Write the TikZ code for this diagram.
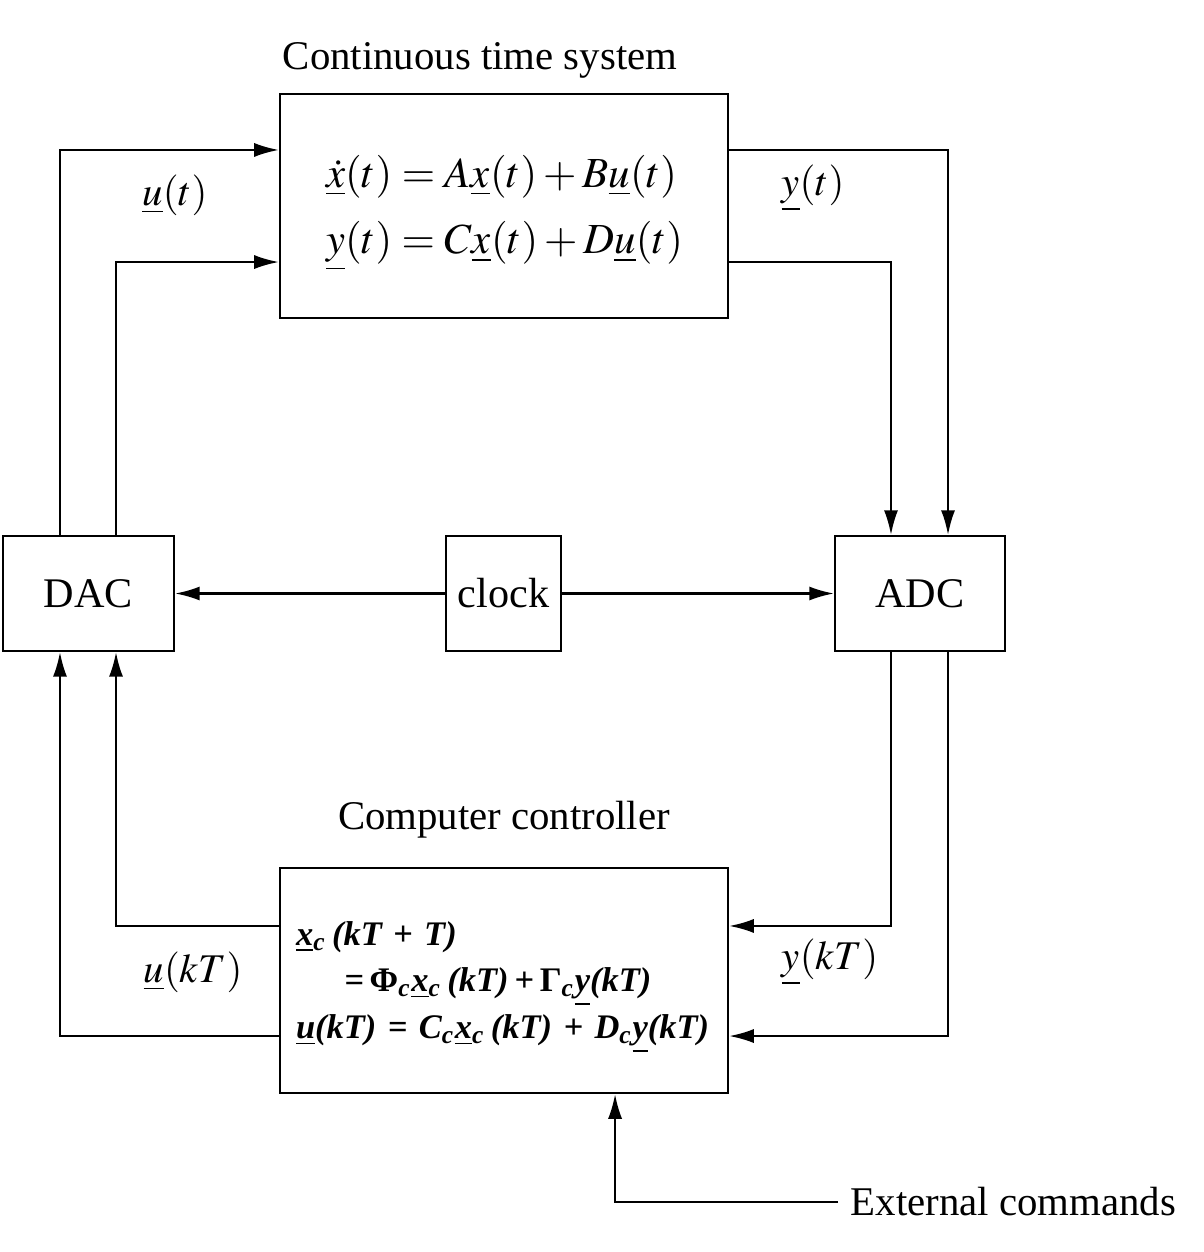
\documentclass[tikz,border=0pt]{standalone}
\usepackage{mathptmx}
\usepackage{fontspec}
\setmainfont{Liberation Serif}
\usetikzlibrary{arrows.meta}
\newcommand{\ulsub}[2]{\underline{#1}\textsubscript{#2}}
\newcommand{\op}[1]{\hspace{0.33em}#1\hspace{0.33em}}
\begin{document}
\begin{tikzpicture}[x=0.01cm, y=-0.01cm, >={Latex[length=7pt,width=4pt]}, line width=0.6pt,
    blk/.style={draw, minimum height=1.15cm, inner sep=0pt, font=\fontsize{12}{14}\selectfont},
    lbl/.style={font=\fontsize{11.6}{14}\selectfont}]
\useasboundingbox (0,0) rectangle (1204,1252);
% blocks
\node[draw, minimum width=4.48cm, minimum height=2.24cm] (sys) at (504,206) {};
\node[draw, minimum width=4.48cm, minimum height=2.25cm] (ctrl) at (504,980.5) {};
\node[blk, minimum width=1.71cm] (dac) at (88.5,593.5) {DAC};
\node[blk, minimum width=1.15cm] (clock) at (503.5,593.5) {clock};
\node[blk, minimum width=1.70cm] (adc) at (920,593.5) {ADC};
% titles
\node[lbl] (systitle) at (480,60) {Continuous time system};
\node[lbl] (ctrltitle) at (504,820) {Computer controller};
% equations
\node[anchor=west, align=left, inner sep=0pt, font=\fontsize{12.2}{19}\selectfont] (syseq) at (325,213)
  {$\underline{\dot{x}}(t) = A\underline{x}(t) + B\underline{u}(t)$\\
   $\underline{y}(t) = C\underline{x}(t) + D\underline{u}(t)$};
\node[anchor=west, align=left, inner sep=0pt, font=\fontsize{9.8}{13.3}\selectfont\bfseries\itshape] (ctrleq) at (295,987)
  {\ulsub{x}{c}\,(kT\op{+}T)\\
   \hspace{1.4em}=\,\textup{Φ}\textsubscript{c}\ulsub{x}{c}\,(kT)\,+\,\textup{Γ}\textsubscript{c}\underline{y}(kT)\\
   \underline{u}(kT)\op{=}C\textsubscript{c}\ulsub{x}{c}\,(kT)\op{+}D\textsubscript{c}\underline{y}(kT)};
% signal labels
\node[lbl] (ut) at (175,195) {$\underline{u}(t)$};
\node[lbl] (yt) at (813,188) {$\underline{y}(t)$};
\node[lbl] (ukt) at (193,972) {$\underline{u}(kT)$};
\node[lbl] (ykt) at (830,962) {$\underline{y}(kT)$};
\node[lbl, anchor=west] (ext) at (838,1202) {External commands};
% DAC to plant
\draw[->] ([xshift=-0.285cm]dac.north) |- ([yshift=0.56cm]sys.west);
\draw[->] ([xshift=0.275cm]dac.north) |- ([yshift=-0.56cm]sys.west);
% plant to ADC
\draw[->] ([yshift=0.56cm]sys.east) -| ([xshift=0.28cm]adc.north);
\draw[->] ([yshift=-0.56cm]sys.east) -| ([xshift=-0.29cm]adc.north);
% clock
\draw[->] (clock.west) -- (dac.east);
\draw[->] (clock.east) -- (adc.west);
% controller to DAC
\draw[->] ([yshift=0.545cm]ctrl.west) -| ([xshift=0.275cm]dac.south);
\draw[->] ([yshift=-0.555cm]ctrl.west) -| ([xshift=-0.285cm]dac.south);
% ADC to controller
\draw[->] ([xshift=-0.29cm]adc.south) |- ([yshift=0.545cm]ctrl.east);
\draw[->] ([xshift=0.28cm]adc.south) |- ([yshift=-0.555cm]ctrl.east);
% external commands
\draw[->] (ext.west) -| ([xshift=1.11cm]ctrl.south);
\end{tikzpicture}
\end{document}
